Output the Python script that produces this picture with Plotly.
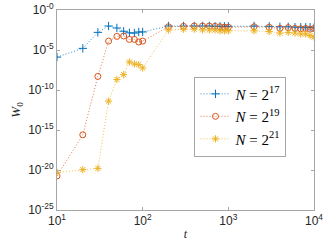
import plotly.graph_objects as go

t = [10, 20, 30, 40, 50, 60, 70, 80, 90, 100,
     200, 300, 400, 500, 600, 700, 800, 900, 1000,
     2000, 3000, 4000, 5000, 6000, 7000, 8000, 9000, 10000]

w_n17 = [1.3e-6, 1.6e-5, 1.6e-3, 1.0e-2, 5.6e-3, 2.2e-3, 1.4e-3, 1.3e-3, 1.8e-3, 1.8e-3,
         1.0e-2, 1.0e-2, 1.0e-2, 1.0e-2, 1.0e-2, 9.0e-3, 9.0e-3, 9.0e-3, 9.0e-3,
         1.0e-2, 9.0e-3, 8.0e-3, 8.0e-3, 7.0e-3, 7.0e-3, 7.0e-3, 7.0e-3, 6.3e-3]

w_n19 = [1.8e-21, 2.5e-16, 5.0e-9, 1.3e-4, 5.0e-4, 5.6e-4, 2.1e-4, 2.1e-4, 1.0e-4, 1.3e-4,
         8.0e-3, 9.0e-3, 1.0e-2, 1.0e-2, 1.0e-2, 9.0e-3, 8.0e-3, 7.0e-3, 7.0e-3,
         8.0e-3, 7.0e-3, 5.0e-3, 6.3e-3, 5.0e-3, 4.5e-3, 5.0e-3, 4.0e-3, 5.0e-3]

w_n21 = [5.0e-21, 1.1e-20, 1.6e-20, 4.0e-12, 2.1e-9, 8.3e-9, 3.2e-7, 1.8e-7, 1.5e-7, 5.6e-8,
         3.2e-3, 4.0e-3, 4.0e-3, 3.2e-3, 3.2e-3, 3.2e-3, 2.5e-3, 2.5e-3, 2.5e-3,
         2.5e-3, 2.0e-3, 1.3e-3, 1.6e-3, 1.3e-3, 1.0e-3, 1.0e-3, 6.3e-4, 4.0e-4]

series_names = ["<i>N</i> = 2<sup>17</sup>", "<i>N</i> = 2<sup>19</sup>", "<i>N</i> = 2<sup>21</sup>"]
colors = ["#0072BD", "#D95319", "#EDB120"]
symbols = ["cross-thin-open", "circle-open", "asterisk-open"]

y_tickvals = [1e0, 1e-5, 1e-10, 1e-15, 1e-20, 1e-25]
y_ticktext = ["10<sup>-0</sup>", "10<sup>-5</sup>", "10<sup>-10</sup>",
              "10<sup>-15</sup>", "10<sup>-20</sup>", "10<sup>-25</sup>"]
x_tickvals = [10, 100, 1000, 10000]
x_ticktext = ["10<sup>1</sup>", "10<sup>2</sup>", "10<sup>3</sup>", "10<sup>4</sup>"]

fig = go.Figure()
for name, ys, c, s in zip(series_names, [w_n17, w_n19, w_n21], colors, symbols):
    fig.add_trace(go.Scatter(
        x=t, y=ys, name=name, mode="lines+markers",
        line=dict(color=c, width=0.8, dash="1px,2px"),
        marker=dict(symbol=s, size=6, color=c, line=dict(color=c, width=1)),
    ))

axis_common = dict(
    type="log", showgrid=False, zeroline=False, showline=True,
    linecolor="#A6A6A6", linewidth=1, mirror="ticks",
    ticks="inside", ticklen=3, tickcolor="#A6A6A6", automargin=False,
    tickfont=dict(family="Liberation Sans, Arial, sans-serif", size=12, color="#262626"),
)

fig.update_xaxes(
    **axis_common, range=[1, 4], tickmode="array",
    tickvals=x_tickvals, ticktext=x_ticktext,
    title=dict(text="<i>t</i>", font=dict(family="Liberation Serif, serif", size=12, color="#262626"),
               standoff=2),
)
fig.update_yaxes(
    **axis_common, range=[-25, 0], tickmode="array",
    tickvals=y_tickvals, ticktext=y_ticktext,
    title=dict(text="<i>W</i><sub>0</sub>", font=dict(family="Liberation Serif, serif", size=13, color="#262626"),
               standoff=4),
)

fig.update_layout(
    width=332, height=249,
    margin=dict(l=57, r=18, t=10, b=39),
    plot_bgcolor="white", paper_bgcolor="white",
    showlegend=True,
    legend=dict(
        x=0.535, y=0.667, xanchor="left", yanchor="top",
        bgcolor="white", bordercolor="#A6A6A6", borderwidth=1,
        font=dict(family="Liberation Serif, serif", size=15, color="#000000"),
        tracegroupgap=0, itemwidth=30,
    ),
)

fig.write_html("out.html", config={"displayModeBar": False},
               post_script="document.body.style.margin='0';document.body.style.padding='0';")
